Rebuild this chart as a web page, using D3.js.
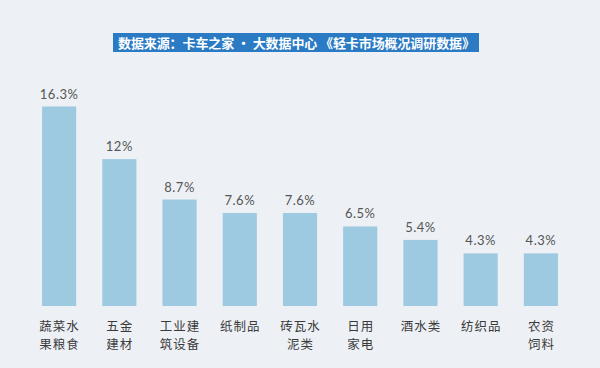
<!DOCTYPE html>
<html><head><meta charset="utf-8">
<script src="https://cdn.jsdelivr.net/npm/d3@7"></script>
<style>
html,body{margin:0;padding:0;background:#edf1f5;}
svg{display:block;}
</style></head>
<body>
<svg id="chart" width="600" height="368"></svg>
<script>
const title = "数据来源：卡车之家 · 大数据中心 《轻卡市场概况调研数据》";
const categories = [["蔬菜水","果粮食"],["五金","建材"],["工业建","筑设备"],["纸制品"],["砖瓦水","泥类"],["日用","家电"],["酒水类"],["纺织品"],["农资","饲料"]];
const values = [16.3, 12, 8.7, 7.6, 7.6, 6.5, 5.4, 4.3, 4.3];
const valueLabels = ["16.3%","12%","8.7%","7.6%","7.6%","6.5%","5.4%","4.3%","4.3%"];

const svg = d3.select("#chart");
svg.append("rect").attr("width",600).attr("height",368).attr("fill","#edf1f5");

// title bar
const tg = svg.append("g");
tg.append("rect").attr("x",113).attr("y",33).attr("width",366).attr("height",19).attr("fill","#2a7bc4");
tg.append("text").attr("x",118).attr("y",47.5)
  .attr("fill","#fff").attr("font-family","'Noto Sans CJK SC'").attr("font-weight","bold")
  .attr("font-size",13).attr("textLength",357).attr("lengthAdjust","spacing").text(title);

const x = d3.scaleBand().domain(d3.range(values.length)).range([30,570]).paddingInner(0.433).paddingOuter(0.2);
const y = d3.scaleLinear().domain([0,16.3]).range([306,106.5]);

svg.selectAll(".bar").data(values).enter().append("rect")
  .attr("x",(d,i)=>x(i)).attr("width",x.bandwidth())
  .attr("y",d=>y(d)).attr("height",d=>y(0)-y(d)).attr("fill","#9ecae1");

svg.selectAll(".vl").data(values).enter().append("text")
  .attr("x",(d,i)=>x(i)+x.bandwidth()/2).attr("y",d=>y(d)-8)
  .attr("text-anchor","middle").attr("fill","#555").attr("font-family","Lato, 'Open Sans', sans-serif")
  .attr("font-size",13).attr("letter-spacing",0.5).text((d,i)=>valueLabels[i]);

const cg = svg.selectAll(".cl").data(categories).enter().append("text")
  .attr("text-anchor","middle").attr("fill","#3a3a3a")
  .attr("font-family","'Noto Sans CJK SC'").attr("font-size",12.5).attr("letter-spacing",1);
cg.each(function(lines,i){
  const t = d3.select(this);
  lines.forEach((l,j)=>{
    t.append("tspan").attr("x",x(i)+x.bandwidth()/2+0.5).attr("y",331+j*18).text(l);
  });
});
</script>
</body></html>
